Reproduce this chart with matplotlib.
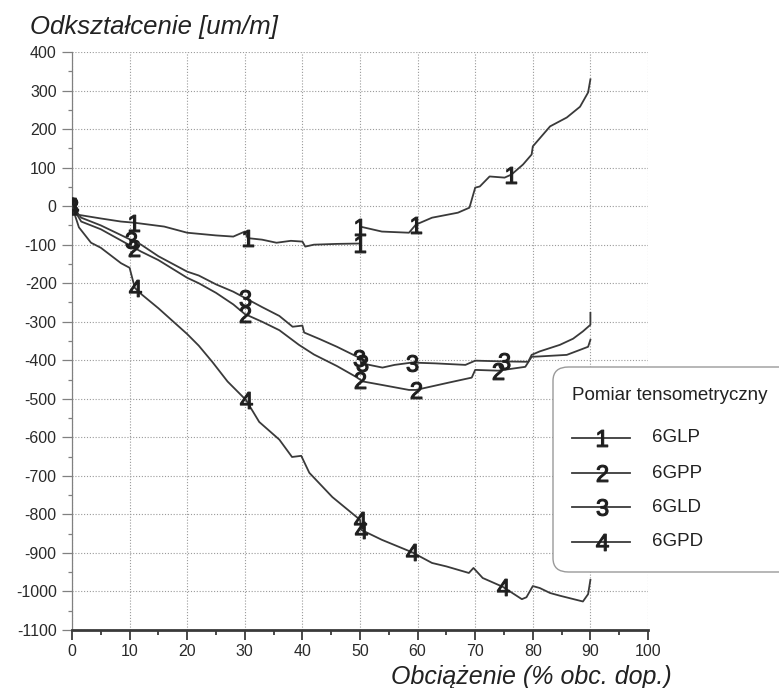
import numpy as np
import matplotlib
matplotlib.use("Agg")
import matplotlib.pyplot as plt
from matplotlib.patches import FancyBboxPatch
from matplotlib.lines import Line2D
from matplotlib.ticker import MultipleLocator

plt.rcParams['font.family'] = ['Liberation Sans', 'DejaVu Sans']
plt.rcParams['mathtext.fontset'] = 'custom'
plt.rcParams['mathtext.rm'] = 'Liberation Sans'
plt.rcParams['mathtext.it'] = 'Liberation Sans'
plt.rcParams['axes.unicode_minus'] = False

# ---- data ----
series_names = ["6GLP", "6GPP", "6GLD", "6GPD"]
series_ids = ["1", "2", "3", "4"]

x1 = [0, 0.9, 5, 8.5, 10.8, 16, 20, 25, 28, 30, 30.5, 33, 35.5, 38, 40, 40.5, 42, 46, 50, 50,
      53.8, 58.5, 59.7, 62.5, 67, 69, 70, 70.8, 72.5, 75.1, 76.3, 78.3, 79.8, 80, 83, 85.9, 88.2, 89.6, 90]
y1 = [0, -22, -32, -40, -43, -53, -69, -76, -79, -66, -83, -87, -95, -90, -92, -105, -100, -98, -97, -53,
      -66, -69, -48, -30, -17, -4, 48, 51, 77, 74, 82, 108, 134, 155, 207, 230, 258, 295, 329]
m1 = [0, 4, 10, 18, 19, 22, 30]

x2 = [0, 1.6, 5, 10.8, 12, 15, 20, 22, 25, 28, 30, 33, 36, 39.4, 42, 46, 49.3, 50, 50.5, 53.8,
      58.5, 59.7, 65.4, 69.4, 70, 74, 78.7, 79.8, 81.2, 85.9, 88.2, 89.6, 90]
y2 = [0, -40, -60, -108, -118, -140, -186, -200, -225, -255, -280, -300, -322, -360, -385, -415, -443, -450, -455, -464,
      -477, -477, -458, -445, -425, -427, -417, -391, -390, -386, -373, -365, -347]
m2 = [0, 3, 10, 17, 21, 25]

x3 = [0, 1.6, 5, 10.3, 12, 15, 20, 22, 25, 28, 30, 33, 36, 38.3, 40, 40.3, 43, 46, 49.8, 50.3,
      53.9, 56, 59, 63, 68.3, 70, 75, 79.2, 79.8, 81.2, 84.7, 87, 88.7, 90, 90]
y3 = [0, -30, -50, -88, -100, -130, -170, -180, -203, -222, -238, -262, -285, -313, -310, -328, -345, -365, -393, -408,
      -419, -412, -406, -408, -412, -401, -403, -404, -386, -377, -360, -344, -325, -308, -277]
m3 = [0, 3, 10, 18, 19, 22, 26]

x4 = [0, 1.2, 3.3, 5, 8.5, 10, 10.9, 12, 15, 20, 22, 24.4, 27, 30.2, 32.5, 36, 38.2, 39.8, 41.2, 45.2,
      50, 50.2, 53.8, 59, 62.5, 65, 68.9, 69.7, 71.3, 74.8, 78.1, 78.9, 80, 81.2, 83, 84.7, 88.7, 89.6, 90]
y4 = [0, -55, -95, -108, -148, -160, -212, -228, -265, -332, -362, -405, -455, -503, -560, -606, -651, -648, -692, -755,
      -814, -840, -866, -898, -926, -935, -952, -939, -965, -988, -1020, -1015, -986, -991, -1004, -1011, -1026, -1007, -970]
m4 = [0, 6, 13, 20, 21, 23, 29]

xs = [x1, x2, x3, x4]
ys = [y1, y2, y3, y4]
marks = [m1, m2, m3, m4]

x_ticks = list(range(0, 101, 10))
y_ticks = list(range(-1100, 401, 100))

# ---- figure ----
W, H = 779, 688
fig = plt.figure(figsize=(W / 100, H / 100), dpi=100)
ax = fig.add_axes([72 / W, 1 - 630 / H, (648 - 72) / W, (630 - 52) / H])

line_col = '#3a3a3a'
mark_col = '#1e1e1e'
for x, y, m, sid in zip(xs, ys, marks, series_ids):
    ax.plot(x, y, color=line_col, lw=1.3, marker=f'${sid}$', markevery=m,
            markersize=12, markerfacecolor=mark_col, markeredgecolor=mark_col,
            markeredgewidth=0.8, zorder=3)

ax.set_xlim(0, 100)
ax.set_ylim(-1100, 400)
ax.set_xticks(x_ticks)
ax.set_yticks(y_ticks)
ax.xaxis.set_minor_locator(MultipleLocator(5))
ax.yaxis.set_minor_locator(MultipleLocator(50))

ax.grid(True, which='major', color='#9a9a9a', lw=0.8, linestyle=(0, (1, 1.6)))
ax.set_axisbelow(True)
for s in ['top', 'right']:
    ax.spines[s].set_visible(False)
ax.spines['left'].set_color('#808080')
ax.spines['left'].set_linewidth(0.9)
ax.spines['bottom'].set_color('#3a3a3a')
ax.spines['bottom'].set_linewidth(2.0)

ax.tick_params(axis='x', which='major', length=7, width=1.3, color='#3a3a3a',
               labelsize=11.5, labelcolor='#2a2a2a', pad=3)
ax.tick_params(axis='x', which='minor', length=3.5, width=1.3, color='#3a3a3a')
ax.tick_params(axis='y', which='major', length=7, width=0.9, color='#808080',
               labelsize=11.5, labelcolor='#2a2a2a', pad=4)
ax.tick_params(axis='y', which='minor', length=3, width=0.9, color='#808080')

fig.text(30 / W, 1 - 27 / H, "Odkształcenie [um/m]", fontsize=18.5, style='italic',
         color='#222', ha='left', va='center')
fig.text(672 / W, 1 - 677 / H, "Obciążenie (% obc. dop.)", fontsize=18, style='italic',
         color='#222', ha='right', va='center')

# ---- legend box ----
box = FancyBboxPatch((553 / W, 1 - 572 / H), 260 / W, (572 - 367) / H,
                     boxstyle="round,pad=0,rounding_size=0.02",
                     transform=fig.transFigure, facecolor='white',
                     edgecolor='#9a9a9a', lw=1.0, zorder=5, clip_on=False)
fig.patches.append(box)
fig.text(572 / W, 1 - 395 / H, "Pomiar tensometryczny", fontsize=13.5,
         color='#222', ha='left', va='center', zorder=6)
row_y = [438, 473, 507, 542]
for ry, sid, name in zip(row_y, series_ids, series_names):
    yy = 1 - ry / H
    ln = Line2D([572 / W, 602 / W, 630 / W], [yy, yy, yy], transform=fig.transFigure,
                color=line_col, lw=1.3, marker=f'${sid}$', markevery=[1],
                markersize=12, markerfacecolor=mark_col, markeredgecolor=mark_col,
                markeredgewidth=0.8, zorder=6)
    fig.lines.append(ln)
    fig.text(652 / W, yy, name, fontsize=13.5, color='#222', ha='left', va='center', zorder=6)

fig.savefig("out.png", dpi=100, facecolor='white')
